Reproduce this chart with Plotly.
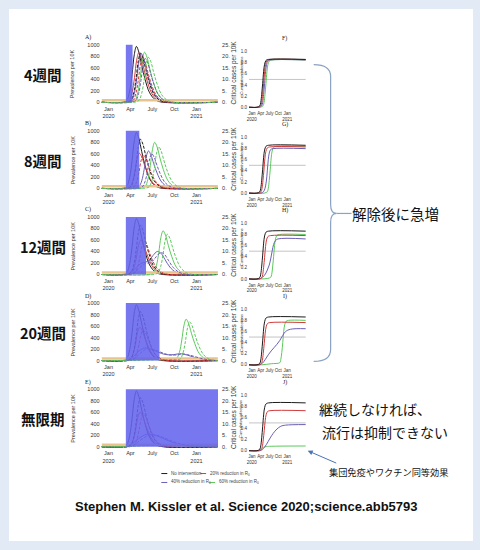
import plotly.graph_objects as go
import pandas as pd

W, H = 480, 550
BASE = pd.Timestamp("2020-01-01")

# ---------------- text / categories ----------------
ROW_LABELS = ["4週間", "8週間", "12週間", "20週間", "無限期"]
LEFT_PANELS = ["A)", "B)", "C)", "D)", "E)"]
RIGHT_PANELS = ["F)", "G)", "H)", "I)", "J)"]
INTERVENTION_START_DAY = 72          # day of 2020 when distancing starts
INTERVENTION_WEEKS = [4, 8, 12, 20, None]   # None = indefinite
SCENARIOS = ["No intervention", "20% reduction in R<sub>0</sub>",
             "40% reduction in R<sub>0</sub>", "60% reduction in R<sub>0</sub>"]
SCEN_COLORS = ["#1c1c1c", "#d23c3c", "#6b5fb5", "#5cc95c"]
CAPACITY = 0.89   # critical care capacity per 10K

PREV_TICKS = [0, 200, 400, 600, 800, 1000]
CRIT_TICKS = [0, 5, 10, 15, 20, 25]
CRIT_TICKTEXT = ["0.", "5.", "10.", "15.", "20.", "25."]
CUM_TICKS = [0.0, 0.2, 0.4, 0.6, 0.8, 1.0]
DATE_TICKS = ["2020-01-01", "2020-04-01", "2020-07-01", "2020-10-01", "2021-01-01"]
DATE_TICKTEXT = ["Jan<br>2020", "Apr", "July", "Oct", "Jan<br>2021"]

# ---------------- series (day of 2020, value) ----------------
NONE_PREV_D = [-29, 56, 76, 88, 98, 107, 116, 126, 138, 152, 171, 196, 226, 455]
NONE_PREV_V = [0, 0, 39, 194, 485, 825, 970, 873, 640, 398, 165, 39, 0, 0]
NONE_CRIT_D = [-29, 73, 93, 105, 115, 124, 133, 143, 155, 169, 188, 213, 243, 455]
NONE_CRIT_V = [0, 0, 0.85, 4.26, 10.65, 18.1, 21.3, 19.2, 14.1, 8.7, 3.6, 0.85, 0, 0]
NONE_CUM_D = [-30, 52, 82, 92, 102, 112, 122, 132, 147, 172, 560]
NONE_CUM_V = [0, 0, 0.026, 0.086, 0.232, 0.43, 0.645, 0.774, 0.843, 0.86, 0.86]

# Row A (4 weeks)
A20_PREV_D = [-29, 66, 86, 98, 108, 117, 126, 136, 148, 162, 181, 206, 236, 455]
A20_PREV_V = [0, 0, 34, 172, 430, 731, 860, 774, 568, 353, 146, 34, 0, 0]
A20_CRIT_D = [-29, 82, 102, 114, 124, 133, 142, 152, 164, 178, 197, 222, 252, 455]
A20_CRIT_V = [0, 0, 0.78, 3.9, 9.75, 16.6, 19.5, 17.6, 12.9, 8.0, 3.3, 0.78, 0, 0]
A40_PREV_D = [-29, 76, 96, 108, 118, 127, 136, 146, 158, 172, 191, 216, 246, 455]
A40_PREV_V = [0, 0, 34, 169, 423, 718, 845, 761, 558, 346, 144, 34, 0, 0]
A40_CRIT_D = [-29, 93, 113, 125, 135, 144, 153, 163, 175, 189, 208, 233, 263, 455]
A40_CRIT_V = [0, 0, 0.76, 3.8, 9.5, 16.2, 19.0, 17.1, 12.5, 7.8, 3.2, 0.76, 0, 0]
A60_PREV_D = [-29, 90, 110, 122, 132, 141, 150, 160, 172, 186, 205, 230, 260, 455]
A60_PREV_V = [0, 0, 35, 174, 435, 740, 870, 783, 574, 357, 148, 35, 0, 0]
A60_CRIT_D = [-29, 106, 126, 138, 148, 157, 166, 176, 188, 202, 221, 246, 276, 455]
A60_CRIT_V = [0, 0, 0.78, 3.9, 9.75, 16.6, 19.5, 17.6, 12.9, 8.0, 3.3, 0.78, 0, 0]
A20_CUM_D = [-30, 62, 92, 102, 112, 122, 132, 142, 157, 182, 560]
A20_CUM_V = [0, 0, 0.026, 0.086, 0.231, 0.428, 0.641, 0.77, 0.838, 0.855, 0.855]
A40_CUM_D = [-30, 72, 102, 112, 122, 132, 142, 152, 167, 192, 560]
A40_CUM_V = [0, 0, 0.026, 0.085, 0.23, 0.425, 0.638, 0.765, 0.833, 0.85, 0.85]
A60_CUM_D = [-30, 86, 116, 126, 136, 146, 156, 166, 181, 206, 560]
A60_CUM_V = [0, 0, 0.026, 0.085, 0.23, 0.425, 0.638, 0.765, 0.833, 0.85, 0.85]

# Row B (8 weeks)
B20_PREV_D = [-29, 68, 88, 100, 110, 119, 128, 138, 150, 164, 183, 208, 238, 455]
B20_PREV_V = [0, 0, 24, 122, 305, 519, 610, 549, 403, 250, 104, 24, 0, 0]
B20_CRIT_D = [-29, 85, 105, 117, 127, 136, 145, 155, 167, 181, 200, 225, 255, 455]
B20_CRIT_V = [0, 0, 0.58, 2.9, 7.25, 12.3, 14.5, 13.1, 9.6, 5.9, 2.5, 0.58, 0, 0]
B40_PREV_D = [-29, 106, 126, 138, 148, 157, 166, 176, 188, 202, 221, 246, 276, 455]
B40_PREV_V = [0, 0, 26, 130, 325, 553, 650, 585, 429, 267, 111, 26, 0, 0]
B40_CRIT_D = [-29, 120, 140, 152, 162, 171, 180, 190, 202, 216, 235, 260, 290, 455]
B40_CRIT_V = [0, 0, 0.6, 3.0, 7.5, 12.75, 15, 13.5, 9.9, 6.15, 2.55, 0.6, 0, 0]
B60_PREV_D = [-29, 132, 152, 164, 174, 183, 192, 202, 214, 228, 247, 272, 302, 455]
B60_PREV_V = [0, 0, 32, 160, 400, 680, 800, 720, 528, 328, 136, 32, 0, 0]
B60_CRIT_D = [-29, 149, 169, 181, 191, 200, 209, 219, 231, 245, 264, 289, 319, 455]
B60_CRIT_V = [0, 0, 0.72, 3.6, 9, 15.3, 18, 16.2, 11.9, 7.4, 3.1, 0.72, 0, 0]
B20_CUM_D = [-30, 65, 95, 105, 115, 125, 135, 145, 160, 185, 560]
B20_CUM_V = [0, 0, 0.025, 0.083, 0.224, 0.415, 0.623, 0.747, 0.813, 0.83, 0.83]
B40_CUM_D = [-30, 90, 120, 135, 150, 160, 170, 180, 195, 220, 560]
B40_CUM_V = [0, 0, 0.024, 0.08, 0.216, 0.4, 0.6, 0.72, 0.784, 0.8, 0.8]
B60_CUM_D = [-30, 130, 160, 170, 180, 190, 200, 210, 225, 250, 560]
B60_CUM_V = [0, 0, 0.025, 0.084, 0.227, 0.42, 0.63, 0.756, 0.823, 0.84, 0.84]

# Row C (12 weeks)
C20_PREV_D = [-29, 74, 94, 106, 116, 125, 134, 144, 156, 170, 189, 214, 244, 455]
C20_PREV_V = [0, 0, 24, 120, 300, 510, 600, 540, 396, 246, 102, 24, 0, 0]
C20_CRIT_D = [-29, 88, 108, 120, 130, 139, 148, 158, 170, 184, 203, 228, 258, 455]
C20_CRIT_V = [0, 0, 0.58, 2.9, 7.25, 12.3, 14.5, 13.1, 9.6, 5.9, 2.5, 0.58, 0, 0]
C40_PREV_D = [-29, 75, 95, 110, 125, 140, 155, 170, 185, 203, 218, 235, 255, 280, 310, 455]
C40_PREV_V = [0, 5, 40, 100, 160, 200, 215, 250, 330, 400, 370, 260, 130, 40, 5, 0]
C40_CRIT_D = [-29, 89, 109, 124, 139, 154, 169, 184, 199, 217, 232, 249, 269, 294, 324, 455]
C40_CRIT_V = [0, 0.1, 1.0, 2.4, 3.8, 4.8, 5.1, 5.9, 7.8, 9.5, 8.8, 6.2, 3.1, 0.95, 0.1, 0]
C60_PREV_D = [-29, 167, 187, 199, 209, 218, 227, 237, 249, 263, 282, 307, 337, 455]
C60_PREV_V = [0, 0, 30, 152, 380, 646, 760, 684, 502, 312, 129, 30, 0, 0]
C60_CRIT_D = [-29, 185, 205, 217, 227, 236, 245, 255, 267, 281, 300, 325, 355, 455]
C60_CRIT_V = [0, 0, 0.7, 3.5, 8.75, 14.9, 17.5, 15.75, 11.55, 7.2, 3.0, 0.7, 0, 0]
C20_CUM_D = [-30, 72, 102, 112, 122, 132, 142, 152, 167, 192, 560]
C20_CUM_V = [0, 0, 0.023, 0.078, 0.21, 0.39, 0.585, 0.702, 0.764, 0.78, 0.78]
C40_CUM_D = [-30, 80, 110, 140, 160, 180, 195, 210, 225, 245, 270, 560]
C40_CUM_V = [0, 0, 0.03, 0.09, 0.16, 0.25, 0.36, 0.5, 0.62, 0.69, 0.72, 0.72]
C60_CUM_D = [-30, 100, 165, 195, 205, 215, 225, 235, 245, 260, 285, 560]
C60_CUM_V = [0, 0, 0.01, 0.03, 0.08, 0.216, 0.4, 0.6, 0.72, 0.784, 0.8, 0.8]

# Row D (20 weeks)
D20_PREV_D = [-29, 70, 90, 102, 112, 121, 130, 140, 152, 166, 185, 210, 240, 455]
D20_PREV_V = [0, 0, 23, 116, 290, 493, 580, 522, 383, 238, 99, 23, 0, 0]
D20_CRIT_D = [-29, 84, 104, 116, 126, 135, 144, 154, 166, 180, 199, 224, 254, 455]
D20_CRIT_V = [0, 0, 0.53, 2.66, 6.65, 11.3, 13.3, 12.0, 8.8, 5.45, 2.26, 0.53, 0, 0]
D40_PREV_D = [-29, 75, 95, 110, 125, 140, 150, 165, 180, 200, 220, 240, 260, 280, 295, 315, 340, 370, 400, 455]
D40_PREV_V = [0, 5, 40, 100, 160, 205, 220, 215, 195, 160, 125, 105, 100, 110, 120, 110, 80, 40, 15, 0]
D40_CRIT_D = [-29, 89, 109, 124, 139, 154, 164, 179, 194, 214, 234, 254, 274, 294, 309, 329, 354, 384, 414, 455]
D40_CRIT_V = [0, 0.1, 1, 2.4, 3.8, 4.9, 5.2, 5.1, 4.6, 3.8, 3.0, 2.5, 2.4, 2.6, 2.9, 2.6, 1.9, 1.0, 0.4, 0]
D60_PREV_D = [-29, 80, 150, 230, 263, 283, 295, 305, 314, 323, 333, 345, 359, 378, 403, 433, 455]
D60_PREV_V = [0, 5, 15, 20, 25, 40, 144, 360, 612, 720, 648, 475, 295, 122, 29, 5, 2]
D60_CRIT_D = [-29, 95, 165, 245, 278, 298, 310, 320, 329, 338, 348, 360, 374, 393, 418, 448, 455]
D60_CRIT_V = [0, 0.1, 0.3, 0.45, 0.5, 0.67, 3.36, 8.4, 14.3, 16.8, 15.1, 11.1, 6.9, 2.9, 0.67, 0.1, 0.05]
D20_CUM_D = [-30, 68, 98, 108, 118, 128, 138, 148, 163, 188, 560]
D20_CUM_V = [0, 0, 0.023, 0.076, 0.205, 0.38, 0.57, 0.684, 0.745, 0.76, 0.76]
D40_CUM_D = [-30, 80, 110, 140, 170, 200, 230, 260, 290, 320, 350, 400, 560]
D40_CUM_V = [0, 0, 0.03, 0.1, 0.18, 0.25, 0.31, 0.37, 0.44, 0.53, 0.6, 0.64, 0.65]
D60_CUM_D = [-30, 100, 200, 290, 300, 310, 320, 330, 340, 355, 380, 560]
D60_CUM_V = [0, 0, 0.02, 0.04, 0.1, 0.22, 0.4, 0.6, 0.72, 0.784, 0.8, 0.8]

# Row E (indefinite)
E20_PREV_D = [-29, 71, 91, 103, 113, 122, 131, 141, 153, 167, 186, 211, 241, 455]
E20_PREV_V = [0, 0, 24, 120, 300, 510, 600, 540, 396, 246, 102, 24, 0, 0]
E20_CRIT_D = [-29, 85, 105, 117, 127, 136, 145, 155, 167, 181, 200, 225, 255, 455]
E20_CRIT_V = [0, 0, 0.57, 2.86, 7.15, 12.2, 14.3, 12.9, 9.4, 5.9, 2.4, 0.57, 0, 0]
E40_PREV_D = [-29, 75, 95, 115, 135, 150, 166, 185, 210, 240, 270, 300, 340, 380, 455]
E40_PREV_V = [0, 5, 40, 110, 170, 205, 220, 210, 175, 120, 70, 35, 10, 3, 0]
E40_CRIT_D = [-29, 89, 109, 129, 149, 164, 180, 199, 224, 254, 284, 314, 354, 394, 455]
E40_CRIT_V = [0, 0.1, 0.95, 2.6, 4.0, 4.9, 5.2, 5.0, 4.2, 2.9, 1.7, 0.8, 0.24, 0.07, 0]
E60_PREV_D = [-29, 75, 100, 150, 250, 350, 455]
E60_PREV_V = [0, 5, 15, 22, 20, 15, 10]
E60_CRIT_D = [-29, 89, 114, 164, 264, 364, 455]
E60_CRIT_V = [0, 0.1, 0.3, 0.5, 0.45, 0.35, 0.25]
E20_CUM_D = [-30, 68, 98, 108, 118, 128, 138, 148, 163, 188, 560]
E20_CUM_V = [0, 0, 0.022, 0.072, 0.194, 0.36, 0.54, 0.648, 0.706, 0.72, 0.72]
E40_CUM_D = [-30, 80, 110, 130, 150, 170, 190, 220, 260, 300, 350, 560]
E40_CUM_V = [0, 0, 0.02, 0.06, 0.11, 0.17, 0.23, 0.31, 0.39, 0.44, 0.46, 0.47]
E60_CUM_D = [-30, 80, 100, 120, 150, 200, 560]
E60_CUM_V = [0, 0, 0.03, 0.06, 0.075, 0.08, 0.085]

ROWS = [
    {"prev": [(NONE_PREV_D, NONE_PREV_V), (A20_PREV_D, A20_PREV_V), (A40_PREV_D, A40_PREV_V), (A60_PREV_D, A60_PREV_V)],
     "crit": [(NONE_CRIT_D, NONE_CRIT_V), (A20_CRIT_D, A20_CRIT_V), (A40_CRIT_D, A40_CRIT_V), (A60_CRIT_D, A60_CRIT_V)],
     "cum": [(NONE_CUM_D, NONE_CUM_V), (A20_CUM_D, A20_CUM_V), (A40_CUM_D, A40_CUM_V), (A60_CUM_D, A60_CUM_V)]},
    {"prev": [(NONE_PREV_D, NONE_PREV_V), (B20_PREV_D, B20_PREV_V), (B40_PREV_D, B40_PREV_V), (B60_PREV_D, B60_PREV_V)],
     "crit": [(NONE_CRIT_D, NONE_CRIT_V), (B20_CRIT_D, B20_CRIT_V), (B40_CRIT_D, B40_CRIT_V), (B60_CRIT_D, B60_CRIT_V)],
     "cum": [(NONE_CUM_D, NONE_CUM_V), (B20_CUM_D, B20_CUM_V), (B40_CUM_D, B40_CUM_V), (B60_CUM_D, B60_CUM_V)]},
    {"prev": [(NONE_PREV_D, NONE_PREV_V), (C20_PREV_D, C20_PREV_V), (C40_PREV_D, C40_PREV_V), (C60_PREV_D, C60_PREV_V)],
     "crit": [(NONE_CRIT_D, NONE_CRIT_V), (C20_CRIT_D, C20_CRIT_V), (C40_CRIT_D, C40_CRIT_V), (C60_CRIT_D, C60_CRIT_V)],
     "cum": [(NONE_CUM_D, NONE_CUM_V), (C20_CUM_D, C20_CUM_V), (C40_CUM_D, C40_CUM_V), (C60_CUM_D, C60_CUM_V)]},
    {"prev": [(NONE_PREV_D, NONE_PREV_V), (D20_PREV_D, D20_PREV_V), (D40_PREV_D, D40_PREV_V), (D60_PREV_D, D60_PREV_V)],
     "crit": [(NONE_CRIT_D, NONE_CRIT_V), (D20_CRIT_D, D20_CRIT_V), (D40_CRIT_D, D40_CRIT_V), (D60_CRIT_D, D60_CRIT_V)],
     "cum": [(NONE_CUM_D, NONE_CUM_V), (D20_CUM_D, D20_CUM_V), (D40_CUM_D, D40_CUM_V), (D60_CUM_D, D60_CUM_V)]},
    {"prev": [(NONE_PREV_D, NONE_PREV_V), (E20_PREV_D, E20_PREV_V), (E40_PREV_D, E40_PREV_V), (E60_PREV_D, E60_PREV_V)],
     "crit": [(NONE_CRIT_D, NONE_CRIT_V), (E20_CRIT_D, E20_CRIT_V), (E40_CRIT_D, E40_CRIT_V), (E60_CRIT_D, E60_CRIT_V)],
     "cum": [(NONE_CUM_D, NONE_CUM_V), (E20_CUM_D, E20_CUM_V), (E40_CUM_D, E40_CUM_V), (E60_CUM_D, E60_CUM_V)]},
]

LEFT_RANGE = ["2019-12-03", "2021-04-01"]
RIGHT_RANGE = ["2019-12-02", "2021-07-12"]


# ---------------- helpers ----------------
def X(px):
    return px / W


def Y(py):
    return 1 - py / H


def to_dates(days):
    return BASE + pd.to_timedelta(days, unit="D")


def ax_key(kind, n):
    return f"{kind}axis" if n == 1 else f"{kind}axis{n}"


def ax_ref(kind, n):
    return kind if n == 1 else f"{kind}{n}"


def note(text, px, py, size, family="Liberation Sans, Arial", color="#333", xanchor="center", angle=0):
    return dict(text=text, x=X(px), y=Y(py), xref="paper", yref="paper", xanchor=xanchor,
                yanchor="middle", showarrow=False, textangle=angle,
                font=dict(family=family, size=size, color=color))


fig = go.Figure()
layout_axes = {}
shapes = []
annotations = []

TICKFONT = dict(family="Liberation Sans, Arial", size=5.5, color="#333")
SMALLFONT = dict(family="Liberation Sans, Arial", size=4.5, color="#333")

# white card on light blue frame
shapes.append(dict(type="rect", xref="paper", yref="paper", x0=X(7), x1=X(473), y0=Y(543), y1=Y(7),
                   fillcolor="white", line=dict(width=0), layer="below"))

for i in range(5):
    lx, rx = 2 * i + 1, 2 * i + 2
    ly, cy, uy = 3 * i + 1, 3 * i + 2, 3 * i + 3
    ltop = 43 + 86.75 * i
    lh = 58.0
    rtop = 50 + 86.5 * i
    rh = 56.0
    l_y0 = ltop + lh + lh * 0.02
    l_y1 = ltop - lh * 0.02
    r_y0 = rtop + rh + rh * 0.02
    r_y1 = rtop - rh * 0.02

    layout_axes[ax_key("x", lx)] = dict(
        domain=[X(100), X(217)], anchor=ax_ref("y", ly), type="date", range=LEFT_RANGE,
        tickvals=DATE_TICKS, ticktext=DATE_TICKTEXT, tickfont=TICKFONT, showgrid=False,
        zeroline=False, showline=False, ticks="", tickangle=0, ticklabelstandoff=1)
    layout_axes[ax_key("y", ly)] = dict(
        domain=[Y(l_y0), Y(l_y1)], anchor=ax_ref("x", lx), range=[-20, 1020],
        tickvals=PREV_TICKS, tickfont=TICKFONT, showgrid=False, zeroline=False,
        showline=False, ticks="", ticklabelstandoff=1)
    layout_axes[ax_key("y", cy)] = dict(
        overlaying=ax_ref("y", ly), side="right", anchor=ax_ref("x", lx), range=[-0.5, 25.5],
        tickvals=CRIT_TICKS, ticktext=CRIT_TICKTEXT, tickfont=TICKFONT, showgrid=False,
        zeroline=False, showline=False, ticks="", ticklabelstandoff=3)
    layout_axes[ax_key("x", rx)] = dict(
        domain=[X(248), X(305)], anchor=ax_ref("y", uy), type="date", range=RIGHT_RANGE,
        tickvals=DATE_TICKS, ticktext=DATE_TICKTEXT, tickfont=SMALLFONT, showgrid=False,
        zeroline=False, showline=False, ticks="", tickangle=0, ticklabelstandoff=1)
    layout_axes[ax_key("y", uy)] = dict(
        domain=[Y(r_y0), Y(r_y1)], anchor=ax_ref("x", rx), range=[-0.02, 1.02],
        tickvals=CUM_TICKS, tickformat=".1f", tickfont=SMALLFONT, showgrid=False,
        zeroline=False, showline=False, ticks="", ticklabelstandoff=1)

    row = ROWS[i]
    fig.add_trace(go.Scatter(x=to_dates([-29, 455]), y=[CAPACITY, CAPACITY], mode="lines",
                             line=dict(color="#e9c38e", width=2.5),
                             xaxis=ax_ref("x", lx), yaxis=ax_ref("y", cy), hoverinfo="skip"))
    for s in range(4):
        d, v = row["crit"][s]
        fig.add_trace(go.Scatter(x=to_dates(d), y=v, mode="lines", line_shape="spline",
                                 line=dict(color=SCEN_COLORS[s], width=1, dash="3px,1.5px"),
                                 xaxis=ax_ref("x", lx), yaxis=ax_ref("y", cy), hoverinfo="skip"))
    for s in range(4):
        d, v = row["prev"][s]
        fig.add_trace(go.Scatter(x=to_dates(d), y=v, mode="lines", line_shape="spline",
                                 line=dict(color=SCEN_COLORS[s], width=1),
                                 xaxis=ax_ref("x", lx), yaxis=ax_ref("y", ly), hoverinfo="skip"))
    fig.add_trace(go.Scatter(x=to_dates([-30, 560]), y=[0.5, 0.5], mode="lines",
                             line=dict(color="#c4c4c4", width=1),
                             xaxis=ax_ref("x", rx), yaxis=ax_ref("y", uy), hoverinfo="skip"))
    for s in [3, 2, 1, 0]:
        d, v = row["cum"][s]
        fig.add_trace(go.Scatter(x=to_dates(d), y=v, mode="lines", line_shape="spline",
                                 line=dict(color=SCEN_COLORS[s], width=1),
                                 xaxis=ax_ref("x", rx), yaxis=ax_ref("y", uy), hoverinfo="skip"))

    start = BASE + pd.Timedelta(days=INTERVENTION_START_DAY)
    if INTERVENTION_WEEKS[i] is None:
        end = pd.Timestamp(LEFT_RANGE[1])
    else:
        end = start + pd.Timedelta(weeks=INTERVENTION_WEEKS[i])
    shapes.append(dict(type="rect", xref=ax_ref("x", lx), yref=ax_ref("y", ly),
                       x0=start, x1=end, y0=0, y1=1000, fillcolor="#6464ee",
                       opacity=0.88, line=dict(width=0), layer="above"))

    annotations.append(note(f"<b>{ROW_LABELS[i]}</b>", 41, ltop + 30, 14.5,
                            family="Noto Sans CJK JP", color="#111"))
    annotations.append(note(LEFT_PANELS[i], 86, ltop - 7, 6, family="Liberation Serif", color="#222"))
    annotations.append(note(RIGHT_PANELS[i], 284, rtop - 13, 6, family="Liberation Serif", color="#222"))
    annotations.append(note("Prevalence per 10K", 71, ltop + 29, 5.5, angle=-90))
    annotations.append(note("Critical cases per 10K", 233, ltop + 28, 6.5, angle=-90))
    annotations.append(note("Cumulative infections", 240, rtop + 24, 4, angle=-90))


def P(px, py):
    return f"{X(px):.5f},{Y(py):.5f}"


brace = (f"M {P(313, 63)} Q {P(330, 63)} {P(330, 75)} L {P(330, 204)} "
         f"Q {P(330, 213)} {P(336, 213)} Q {P(330, 213)} {P(330, 222)} "
         f"L {P(330, 350)} Q {P(330, 362)} {P(313, 362)}")
shapes.append(dict(type="path", xref="paper", yref="paper", path=brace,
                   line=dict(color="#8aa2c4", width=1.2)))
shapes.append(dict(type="line", xref="paper", yref="paper", x0=X(336), y0=Y(213), x1=X(351), y1=Y(213),
                   line=dict(color="#8aa2c4", width=1.2)))

JP = "Noto Sans CJK JP"
annotations.append(note("解除後に急増", 395, 213, 14.5, family=JP, color="#111"))
annotations.append(note("継続しなければ、", 375, 410, 14, family=JP, color="#111"))
annotations.append(note("流行は抑制できない", 385, 433, 14, family=JP, color="#111"))
annotations.append(note("集団免疫やワクチン同等効果", 388, 473, 9.2, family=JP, color="#111"))
annotations.append(dict(text="", x=X(307), y=Y(452), xref="paper", yref="paper", showarrow=True,
                        ax=30, ay=13, arrowhead=2, arrowsize=1, arrowwidth=1, arrowcolor="#4a74b4"))

LEG_POS = [(160, 475), (199, 475), (160, 484), (208, 484)]
for s in range(4):
    lxp, lyp = LEG_POS[s]
    shapes.append(dict(type="line", xref="paper", yref="paper", x0=X(lxp), x1=X(lxp + 6), y0=Y(lyp), y1=Y(lyp),
                       line=dict(color=SCEN_COLORS[s], width=1)))
    annotations.append(note(SCENARIOS[s], lxp + 8, lyp, 4.5, color="#444", xanchor="left"))

annotations.append(note("<b>Stephen M. Kissler et al. Science 2020;science.abb5793</b>", 246, 508, 13,
                        color="#111"))

fig.update_layout(
    width=W, height=H, autosize=False, margin=dict(l=0, r=0, t=0, b=0),
    paper_bgcolor="#e2eaf5", plot_bgcolor="rgba(0,0,0,0)", showlegend=False,
    shapes=shapes, annotations=annotations, **layout_axes)

fig.write_html("out.html")
